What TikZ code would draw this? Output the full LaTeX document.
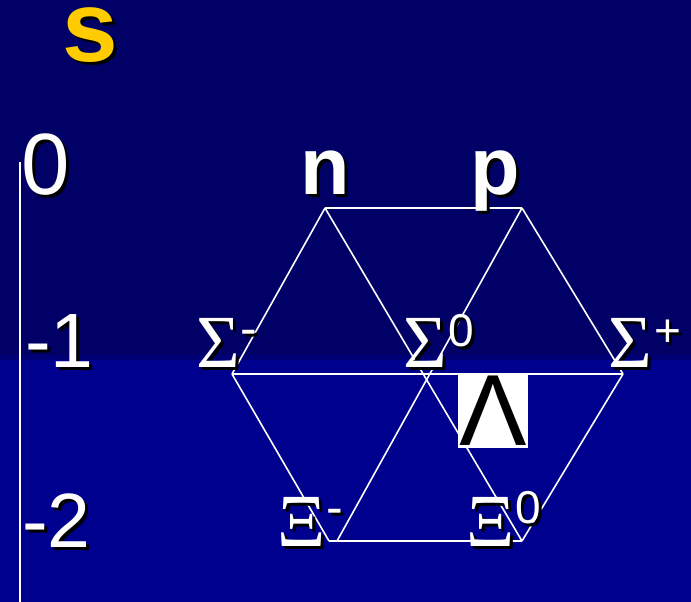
\documentclass[tikz,border=0pt]{standalone}
\usepackage{fontspec}
\setmainfont{Liberation Sans}
\newfontfamily\grserif{Liberation Serif}
\definecolor{topnavy}{RGB}{0,0,102}
\definecolor{bandnavy}{RGB}{0,0,118}
\definecolor{botnavy}{RGB}{0,0,142}
\definecolor{sgold}{RGB}{255,204,0}
\newcommand{\shd}[1]{\leavevmode\rlap{\kern3pt\raisebox{-3pt}{\color{black}#1}}#1}
\newcommand{\fsz}[1]{\fontsize{#1}{#1}\selectfont}
\begin{document}
\begin{tikzpicture}[x=1pt,y=-1pt,
  lbl/.style={inner sep=0pt,outer sep=0pt,anchor=base west,text=white},
  edge/.style={draw=white,line width=1.6pt}]
\useasboundingbox (0,0) rectangle (691,602);
\fill[topnavy] (0,0) rectangle (691,355);
\fill[bandnavy] (0,355) rectangle (691,360);
\fill[botnavy] (0,360) rectangle (691,602);
% axis
\coordinate (axtop) at (20,162);
\coordinate (axbot) at (20,602);
\draw[white,line width=2pt] (axtop) -- (axbot);
% vertices
\coordinate (TL) at (325,208);
\coordinate (TR) at (522,208);
\coordinate (L) at (232,374);
\coordinate (Rr) at (623,374);
\coordinate (BL) at (329,541);
\coordinate (BLd) at (337,541);
\coordinate (BR) at (522,541);
\draw[edge] (TL) -- (TR);
\draw[edge] (TL) -- (L);
\draw[edge] (TL) -- (BR);
\draw[edge] (TR) -- (BLd);
\draw[edge] (TR) -- (Rr);
\draw[edge] (L) -- (Rr);
\draw[edge] (L) -- (BL);
\draw[edge] (Rr) -- (BR);
\draw[edge] (BL) -- (BR);
% Lambda box
\node[fill=white,text=black,inner sep=0pt,minimum width=70pt,minimum height=74pt,anchor=north west,font=\fsz{101}] (lam) at (458,374) {Λ};
% labels
\node[lbl,text=sgold,font=\fsz{100}\bfseries,text height=54pt] (s) at (62,62) {\shd{s}};
\node[lbl,font=\fsz{87}] (z0) at (21.5,194) {\shd{0}};
\node[lbl,font=\fsz{77}] (m1) at (25,367) {\shd{-1}};
\node[lbl,font=\fsz{77}] (m2) at (22,547) {\shd{-2}};
\node[lbl,font=\fsz{81}\bfseries] (n) at (300,194) {\shd{n}};
\node[lbl,font=\fsz{81}\bfseries] (p) at (470,194) {\shd{p}};
\node[lbl,font=\fsz{75}] (sigm) at (196,367) {\shd{{\grserif Σ}\kern1pt\raisebox{22pt}{\fsz{50}-}}};
\node[lbl,font=\fsz{75}] (sig0) at (403,367) {\shd{{\grserif Σ}\kern2pt\raisebox{21pt}{\fsz{46}0}}};
\node[lbl,font=\fsz{75}] (sigp) at (608,367) {\shd{{\grserif Σ}\kern3pt\raisebox{21pt}{\fsz{46}+}}};
\node[lbl,font=\fsz{75}] (xim) at (277,546) {\shd{{\grserif Ξ}\kern1pt\raisebox{22pt}{\fsz{50}-}}};
\node[lbl,font=\fsz{75}] (xi0) at (466,546) {\shd{{\grserif Ξ}\kern1pt\raisebox{23pt}{\fsz{46}0}}};
\end{tikzpicture}
\end{document}
